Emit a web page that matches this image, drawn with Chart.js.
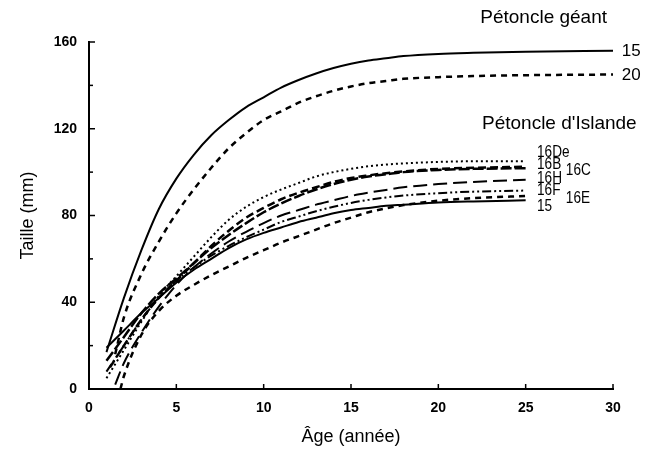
<!DOCTYPE html>
<html>
<head>
<meta charset="utf-8">
<script src="https://cdn.jsdelivr.net/npm/chart.js@4.4.0/dist/chart.umd.min.js"></script>
<style>
  body { margin: 0; background: #fff; }
  #wrap { width: 650px; height: 455px; }
</style>
</head>
<body>
<div id="wrap"><canvas id="courbes"></canvas></div>
<script>
// ages communs (annees)
var agesGeant = [2, 3, 4, 5, 6, 7, 8, 9, 10, 11, 12, 13, 14, 15, 16, 17, 18, 20, 22, 25, 30];
var agesIslande = [2, 3, 4, 5, 6, 7, 8, 9, 10, 11, 12, 13, 14, 15, 16, 17, 18, 20, 22, 25];

// Petoncle geant
var geant15 = [42, 64, 83, 97, 108, 117, 124, 130, 134.5, 139, 142.5, 145.5, 148, 150, 151.5, 152.5, 153.5, 154.5, 155, 155.5, 156];
var geant20 = [33, 53, 68, 81, 92, 102, 111, 118, 124, 128, 132, 135, 137.5, 139.5, 141, 142, 143, 143.8, 144.3, 144.7, 145];

// Petoncle d'Islande
var isl16De = [18, 31, 43, 52, 61, 70, 78, 84, 88.5, 92, 95, 98, 100, 101.5, 102.7, 103.5, 104, 104.7, 105, 105];
var isl16B = [20, 32, 42, 50, 58, 66, 73, 79, 83.5, 87.5, 90.5, 93, 95.5, 97.3, 98.5, 99.5, 100.3, 101.5, 102, 102.5];
var isl16C = [24, 35, 44, 51, 58, 65, 71, 76.5, 81.5, 85.5, 89, 92, 94.5, 96.5, 98, 99, 100, 101, 101.5, 101.8];
var isl16H = [12, 26, 38, 48, 56, 62.5, 68, 72.5, 76.5, 80, 82.5, 85, 87, 89, 90.5, 91.8, 93, 94.5, 95.5, 96.5];
var isl16F = [20, 32, 42, 50, 56, 61.5, 66, 70, 73.5, 77, 79.5, 82, 84, 85.8, 87.2, 88.3, 89.2, 90.3, 91, 91.5];
var isl16E = [6, 25, 36, 43, 48, 52.5, 56.5, 60.5, 64, 67.5, 70.5, 73.5, 76.5, 79, 81.5, 83.3, 84.8, 86.8, 88, 89];
var isl15 = [27, 35, 42, 49, 55, 60, 65, 69, 72, 74.5, 77, 79, 81, 82.5, 83.5, 84.5, 85, 86, 86.5, 87];

// premier point de chaque courbe (age, taille)
var nomsSeries = ["G15", "G20", "16De", "16B", "16C", "16H", "16F", "16E", "15"];
var debutAge = [1.0, 1.5, 1.0, 1.2, 1.0, 1.5, 1.0, 1.8, 1.0];
var debutTaille = [17, 16, 5, 10, 13, 2, 8, 0, 19];

var ticksX = [0, 5, 10, 15, 20, 25, 30];

function montarPontos(idx, ages, valores) {
  var pts = [{ x: debutAge[idx], y: debutTaille[idx] }];
  for (var i = 0; i < ages.length; i++) {
    pts.push({ x: ages[i], y: valores[i] });
  }
  return pts;
}

function serie(idx, ages, valores, tracos, largura) {
  return {
    label: nomsSeries[idx],
    data: montarPontos(idx, ages, valores),
    borderColor: '#000',
    borderWidth: largura,
    borderDash: tracos,
    pointRadius: 0,
    fill: false,
    cubicInterpolationMode: 'monotone'
  };
}

var fonte = '"Liberation Sans", Arial, Helvetica, sans-serif';

var rotulos = {
  id: 'rotulos',
  afterDraw: function (chart) {
    var ctx = chart.ctx;
    var sx = chart.scales.x;
    var sy = chart.scales.y;
    var a = chart.chartArea;
    ctx.save();
    ctx.strokeStyle = '#000';
    ctx.lineWidth = 1.5;
    // petits traits vers l'interieur
    for (var i = 1; i < ticksX.length; i++) {
      var px = sx.getPixelForValue(ticksX[i]);
      ctx.beginPath(); ctx.moveTo(px, a.bottom); ctx.lineTo(px, a.bottom - 5); ctx.stroke();
    }
    for (var v = 20; v <= 160; v += 20) {
      var py = sy.getPixelForValue(v);
      var l = (v % 40 == 0) ? 6 : 4;
      ctx.beginPath(); ctx.moveTo(a.left, py); ctx.lineTo(a.left + l, py); ctx.stroke();
    }

    ctx.fillStyle = '#000';
    ctx.textBaseline = 'middle';
    ctx.textAlign = 'left';
    function txt(t, x, y, taille, etroit) {
      ctx.save();
      ctx.font = taille + 'px ' + fonte;
      ctx.translate(sx.getPixelForValue(x), sy.getPixelForValue(y));
      ctx.scale(etroit, 1);
      ctx.fillText(t, 0, 0);
      ctx.restore();
    }
    txt('Pétoncle géant', 22.4, 171.4, 19, 1);
    txt('15', 30.5, 155.7, 17, 1);
    txt('20', 30.5, 144.6, 17, 1);
    txt("Pétoncle d'Islande", 22.5, 122.4, 19, 1);
    txt('16De', 25.65, 108.8, 16, 0.85);
    txt('16B', 25.65, 103.3, 16, 0.85);
    txt('16C', 27.3, 100.9, 16, 0.85);
    txt('16H', 25.65, 97.0, 16, 0.85);
    txt('16F', 25.65, 91.3, 16, 0.85);
    txt('16E', 27.3, 87.6, 16, 0.85);
    txt('15', 25.65, 84.0, 16, 0.85);
    ctx.restore();
  }
};

var ctx = document.getElementById('courbes').getContext('2d');

new Chart(ctx, {
  type: 'line',
  data: {
    datasets: [
      serie(0, agesGeant, geant15, [], 2),
      serie(1, agesGeant, geant20, [6, 5], 2.5),
      serie(2, agesIslande, isl16De, [2, 3], 2),
      serie(3, agesIslande, isl16B, [8, 4], 2.5),
      serie(4, agesIslande, isl16C, [11, 3], 2.5),
      serie(5, agesIslande, isl16H, [14, 6], 2),
      serie(6, agesIslande, isl16F, [9, 3, 2, 3, 2, 3], 2),
      serie(7, agesIslande, isl16E, [6, 5], 2.5),
      serie(8, agesIslande, isl15, [], 2)
    ]
  },
  options: {
    responsive: true,
    maintainAspectRatio: false,
    animation: false,
    layout: { padding: { top: 42, right: 37, left: 0, bottom: 0 } },
    plugins: {
      legend: { display: false },
      tooltip: { enabled: false }
    },
    scales: {
      x: {
        type: 'linear',
        min: 0,
        max: 30,
        afterFit: function (s) { s.height = 66; },
        ticks: { stepSize: 5, color: '#000', padding: 11, font: { family: fonte, size: 14, weight: 'bold' } },
        grid: { drawOnChartArea: false, drawTicks: false },
        border: { color: '#000', width: 2 },
        title: { display: true, text: 'Âge (année)', color: '#000', font: { family: fonte, size: 18 }, padding: { top: 0, bottom: 7 } }
      },
      y: {
        min: 0,
        max: 160,
        afterFit: function (s) { s.width = 89; },
        ticks: { stepSize: 40, color: '#000', padding: 12, font: { family: fonte, size: 14, weight: 'bold' } },
        grid: { drawOnChartArea: false, drawTicks: false },
        border: { color: '#000', width: 2 },
        title: { display: true, text: 'Taille (mm)', color: '#000', font: { family: fonte, size: 18 }, padding: { top: 17, bottom: 0 } }
      }
    }
  },
  plugins: [rotulos]
});
</script>
</body>
</html>
